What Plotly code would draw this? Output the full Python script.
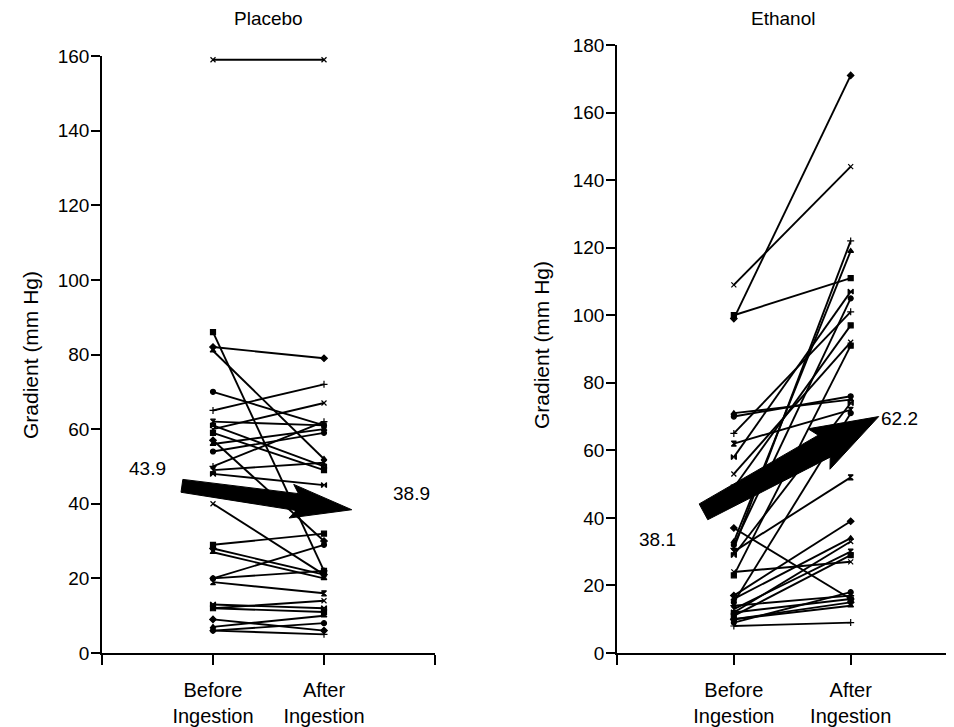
import plotly.graph_objects as go
import math

# ---------------- data ----------------
placebo_before = [159, 86, 82, 81, 70, 65, 62, 61, 60, 59, 57, 56, 54, 50, 49, 48, 40,
                  29, 28, 27, 20, 20, 19, 13, 12, 12, 9, 7, 6, 6]
placebo_after = [159, 22, 79, 52, 61, 72, 61, 50, 67, 49, 30, 60, 59, 62, 51, 45, 21,
                 32, 21, 20, 29, 22, 16, 12, 14, 11, 6, 10, 8, 5]

ethanol_before = [109, 100, 99, 71, 70, 65, 62, 58, 53, 49, 37, 33, 32, 31, 30, 29, 24,
                  23, 17, 16, 15, 14, 13, 12, 12, 11, 10, 10, 9, 8]
ethanol_after = [144, 111, 171, 75, 76, 101, 72, 107, 92, 97, 16, 119, 105, 122, 52, 74, 27,
                 91, 39, 34, 71, 17, 30, 16, 33, 29, 15, 14, 18, 9]

placebo_means = [43.9, 38.9]
ethanol_means = [38.1, 62.2]

x_tick_vals = [0, 1, 2, 3]
x_tick_text = ["", "Before<br>Ingestion", "After<br>Ingestion", ""]
placebo_y_ticks = [0, 20, 40, 60, 80, 100, 120, 140, 160]
ethanol_y_ticks = [0, 20, 40, 60, 80, 100, 120, 140, 160, 180]

# page has an 8px body margin, so the figure is 8px smaller than the window
OFF = 8
W, H = 954 - OFF, 727 - OFF
FONT = "Liberation Sans, Arial, sans-serif"


def fx(px):
    return (px - OFF) / W


def fy(py):
    return 1 - (py - OFF) / H


# layout geometry (paper fractions, from window pixels)
L_DOM = [fx(102), fx(435)]
R_DOM = [fx(617), fx(950)]
Y_BOT = fy(653)
L_YTOP = fy(56)
R_YTOP = fy(45)
L_XR = [0, 3]
R_XR = [0, 2.85]
L_YR = [0, 160]
R_YR = [0, 180]

symbols = ["x-thin-open", "square", "diamond", "triangle-up", "circle", "cross-thin-open",
           "hourglass", "bowtie"]

fig = go.Figure()


def add_pairs(before, after, xa, ya):
    for i, (b, a) in enumerate(zip(before, after)):
        sym = symbols[i % len(symbols)]
        fig.add_trace(go.Scatter(
            x=[1, 2], y=[b, a], mode="lines+markers",
            line=dict(color="black", width=1.9),
            marker=dict(symbol=sym, size=5, color="black",
                        line=dict(color="black", width=1.2)),
            xaxis=xa, yaxis=ya, showlegend=False, hoverinfo="skip"))


add_pairs(placebo_before, placebo_after, "x", "y")
add_pairs(ethanol_before, ethanol_after, "x2", "y2")


def scale(dom, rng, total):
    return (dom[1] - dom[0]) * total / (rng[1] - rng[0])


def arrow_poly(tail, tip, xdom, xr, ydom, yr, w_tail, w_base, head_w, head_len):
    sx = scale(xdom, xr, W)
    sy = scale(ydom, yr, H)
    tx, ty = tail[0] * sx, tail[1] * sy
    px, py = tip[0] * sx, tip[1] * sy
    dx, dy = px - tx, py - ty
    ln = math.hypot(dx, dy)
    ux, uy = dx / ln, dy / ln
    nx, ny = -uy, ux
    bx, by = px - ux * head_len, py - uy * head_len
    pts = [
        (tx + nx * w_tail, ty + ny * w_tail),
        (bx + nx * w_base, by + ny * w_base),
        (bx - ux * 6 + nx * head_w, by - uy * 6 + ny * head_w),
        (px, py),
        (bx - ux * 6 - nx * head_w, by - uy * 6 - ny * head_w),
        (bx - nx * w_base, by - ny * w_base),
        (tx - nx * w_tail, ty - ny * w_tail),
    ]
    xs = [p[0] / sx for p in pts] + [pts[0][0] / sx]
    ys = [p[1] / sy for p in pts] + [pts[0][1] / sy]
    return xs, ys


ax, ay = arrow_poly((0.72, placebo_means[0] + 0.9), (2.25, placebo_means[1] - 0.5),
                    L_DOM, L_XR, [Y_BOT, L_YTOP], L_YR, 6.5, 8.5, 17, 55)
fig.add_trace(go.Scatter(x=ax, y=ay, mode="lines", fill="toself", fillcolor="black",
                         line=dict(color="black", width=1), xaxis="x", yaxis="y",
                         showlegend=False, hoverinfo="skip"))

ax, ay = arrow_poly((0.74, ethanol_means[0] + 3.7), (2.24, ethanol_means[1] + 7.8),
                    R_DOM, R_XR, [Y_BOT, R_YTOP], R_YR, 9, 12.5, 23, 62)
fig.add_trace(go.Scatter(x=ax, y=ay, mode="lines", fill="toself", fillcolor="black",
                         line=dict(color="black", width=1), xaxis="x2", yaxis="y2",
                         showlegend=False, hoverinfo="skip"))

axis_common = dict(showgrid=False, zeroline=False, showline=True, linecolor="black",
                   linewidth=1.6, ticks="outside", tickcolor="black", tickwidth=1.6,
                   automargin=False)
y_font = dict(family=FONT, size=19, color="black")
x_font = dict(family=FONT, size=20, color="black")

fig.update_layout(
    width=W, height=H,
    margin=dict(l=0, r=0, t=0, b=0),
    paper_bgcolor="white", plot_bgcolor="white",
    xaxis=dict(domain=L_DOM, range=L_XR, anchor="y", tickvals=x_tick_vals,
               ticktext=x_tick_text, ticklen=10, ticklabelstandoff=8, tickfont=x_font,
               **axis_common),
    yaxis=dict(domain=[Y_BOT, L_YTOP], range=L_YR, anchor="x", tickvals=placebo_y_ticks,
               ticklen=9, ticklabelstandoff=-2, tickfont=y_font, **axis_common),
    xaxis2=dict(domain=R_DOM, range=R_XR, anchor="y2", tickvals=x_tick_vals,
                ticktext=x_tick_text, ticklen=10, ticklabelstandoff=8, tickfont=x_font,
                **axis_common),
    yaxis2=dict(domain=[Y_BOT, R_YTOP], range=R_YR, anchor="x2", tickvals=ethanol_y_ticks,
                ticklen=9, ticklabelstandoff=-2, tickfont=y_font, **axis_common),
)


def ann(text, x, y, xref, yref, size, angle=0):
    fig.add_annotation(text=text, x=x, y=y, xref=xref, yref=yref, showarrow=False,
                       xanchor="center", yanchor="middle", textangle=angle,
                       font=dict(family=FONT, size=size, color="black"))


ann("Placebo", sum(L_DOM) / 2, fy(18), "paper", "paper", 19)
ann("Ethanol", sum(R_DOM) / 2, fy(18), "paper", "paper", 19)
ann("Gradient (mm Hg)", fx(30), fy(355), "paper", "paper", 21, -90)
ann("Gradient (mm Hg)", fx(541), fy(345), "paper", "paper", 21, -90)

ann(f"{placebo_means[0]}", 0.41, 49.4, "x", "y", 19)
ann(f"{placebo_means[1]}", 2.79, 42.7, "x", "y", 19)
ann(f"{ethanol_means[0]}", 0.35, 33.5, "x2", "y2", 19)
ann(f"{ethanol_means[1]}", 2.42, 69.4, "x2", "y2", 19)

fig.write_html("out.html")
